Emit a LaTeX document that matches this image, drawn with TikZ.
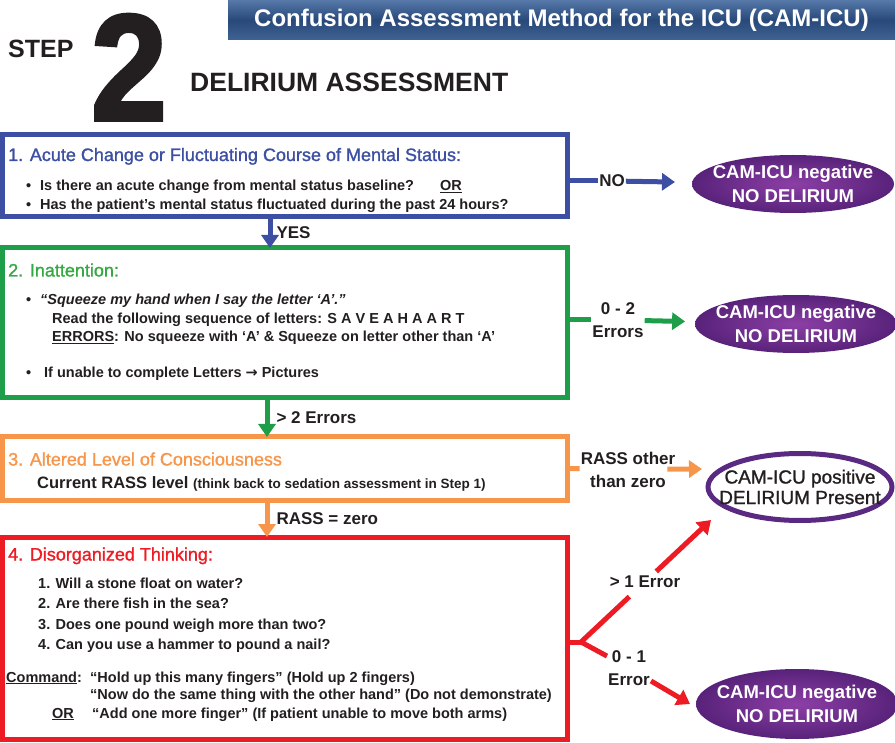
\documentclass[tikz,border=0pt]{standalone}
\usepackage{fontspec}
\setmainfont{Liberation Sans}
\newfontfamily\heavyfont{Liberation Sans}[UprightFont={* Bold}, FakeBold=2.5, FakeStretch=0.9]
\newfontfamily\mediumfont{Liberation Sans}[FakeBold=1.2]
\newfontfamily\arrowfont{DejaVu Sans}
\usetikzlibrary{arrows.meta, shapes.geometric, positioning}

\definecolor{camblue}{HTML}{3C4FA2}
\definecolor{camgreen}{HTML}{1F9E4A}
\definecolor{titlegreen}{HTML}{35A941}
\definecolor{camorange}{HTML}{F7964A}
\definecolor{camred}{HTML}{ED1C24}
\definecolor{inkdark}{HTML}{231F20}
\definecolor{purplelight}{HTML}{8C3FA5}
\definecolor{purpledark}{HTML}{58227A}
\definecolor{purpleedge}{HTML}{5A2A82}
\definecolor{barblue}{HTML}{28497A}
\definecolor{bartop}{HTML}{5679A9}
\definecolor{barbottom}{HTML}{3F6394}

\newcommand{\camitem}[1][9pt]{\llap{\textbullet\hspace{#1}}}

\tikzset{%
  stepbox/.style={
    rectangle,
    draw,
    line width=5pt,
    fill=white,
    inner sep=0pt,
    outer sep=0pt,
    anchor=north west
  },
  box title/.style={
    anchor=base west,
    inner sep=0pt,
    font=\mediumfont\fontsize{18}{20}\selectfont
  },
  box line/.style={
    anchor=base west,
    inner sep=0pt,
    text=inkdark,
    font=\bfseries\fontsize{14.5}{17}\selectfont
  },
  flow label/.style={
    inner sep=1pt,
    text=inkdark,
    align=center,
    font=\bfseries\fontsize{17}{23}\selectfont
  },
  flowline/.style={
    line width=5pt
  },
  negative/.style={
    ellipse,
    inner xsep=-10pt,
    inner ysep=0pt,
    align=center,
    text=white,
    inner color=purplelight,
    outer color=purpledark,
    minimum width=202pt,
    minimum height=58pt,
    font=\bfseries\fontsize{18.5}{24}\selectfont
  },
  positive/.style={
    ellipse,
    draw=purpleedge,
    line width=5pt,
    fill=white,
    inner xsep=-20pt,
    inner ysep=0pt,
    align=center,
    text=inkdark,
    minimum width=184pt,
    minimum height=67pt,
    font=\mediumfont\fontsize{19}{20.5}\selectfont
  },
  header bar/.style={
    rectangle,
    inner sep=0pt,
    minimum width=667pt,
    minimum height=40pt,
    top color=bartop,
    bottom color=barbottom,
    middle color=barblue,
    text=white,
    font=\bfseries\fontsize{24}{24}\selectfont
  },
}

\begin{document}
\begin{tikzpicture}[x=1pt, y=-1pt, >={Triangle[length=13pt, width=17pt]}]

\useasboundingbox (0,0) rectangle (895,743);

% HEADER
\node [header bar] (cam-title) at (561.5,20)
  {Confusion Assessment Method for the ICU (CAM-ICU)};
\node [anchor=base west, inner sep=0pt, text=inkdark,
  font=\bfseries\fontsize{25}{25}\selectfont] (step-word) at (8,58) {STEP};
\node [anchor=base west, inner sep=0pt, text=inkdark,
  font=\heavyfont\fontsize{151}{151}\selectfont] (step-num) at (91,120) {2};
\node [anchor=base west, inner sep=0pt, text=inkdark,
  font=\bfseries\fontsize{26.5}{27}\selectfont] (step-name) at (190,92)
  {DELIRIUM ASSESSMENT};

% BOX 1: acute change
\node [stepbox, draw=camblue, minimum width=565pt, minimum height=82pt]
  (acute) at (2.5,135) {};
\node [box title, text=camblue] (acute-title) at (8,161)
  {1. Acute Change or Fluctuating Course of Mental Status:};
\foreach \t [count=\i] in {%
    {Is there an acute change from mental status baseline?\hspace{26pt}\underline{OR}},
    {Has the patient’s mental status fluctuated during the past 24 hours?}}
  \node [box line] (acute-\i) at (40,172+19*\i) {\camitem\t};

% BOX 2: inattention
\node [stepbox, draw=camgreen, minimum width=565pt, minimum height=150pt]
  (inatt) at (2.5,248) {};
\node [box title, text=titlegreen] (inatt-title) at (8,276.5) {2. Inattention:};
\node [box line] (inatt-1) at (40,305)
  {\camitem\itshape “Squeeze my hand when I say the letter ‘A’.”};
\node [box line] (inatt-2) at (52,324)
  {Read the following sequence of letters: S A V E A H A A R T};
\node [box line] (inatt-3) at (52,342)
  {\underline{ERRORS}: No squeeze with ‘A’ \& Squeeze on letter other than ‘A’};
\node [box line] (inatt-4) at (44,378)
  {\camitem[13pt]If unable to complete Letters {\arrowfont\bfseries →} Pictures};

% BOX 3: level of consciousness
\node [stepbox, draw=camorange, minimum width=565pt, minimum height=63pt]
  (alert) at (2.5,437) {};
\node [box title, text=camorange] (alert-title) at (8,465.5)
  {3. Altered Level of Consciousness};
\node [box line] (alert-1) at (37,488)
  {\fontsize{16.5}{18}\selectfont Current RASS level
   \fontsize{13.5}{16}\selectfont(think back to sedation assessment in Step 1)};

% BOX 4: disorganized thinking
\node [stepbox, draw=camred, minimum width=565pt, minimum height=202pt]
  (think) at (2.5,537) {};
\node [box title, text=camred] (think-title) at (8,560.5)
  {4. Disorganized Thinking:};
\foreach \q [count=\i] in {%
    Will a stone float on water?,
    Are there fish in the sea?,
    Does one pound weigh more than two?,
    Can you use a hammer to pound a nail?}
  \node [box line] (think-\i) at (38,567.5+20.6*\i) {\i. \q};
\node [box line] (think-cmd) at (6,682) {\underline{Command}:};
\node [box line] (think-5) at (90,682)
  {“Hold up this many fingers” (Hold up 2 fingers)};
\node [box line] (think-6) at (90,699)
  {“Now do the same thing with the other hand” (Do not demonstrate)};
\node [box line] (think-or) at (52,718) {\underline{OR}};
\node [box line] (think-7) at (92,718)
  {“Add one more finger” (If patient unable to move both arms)};

% RESULT ellipses
\node [negative] (neg-acute) at (793,184) {CAM-ICU negative\\NO DELIRIUM};
\node [negative] (neg-inatt) at (796,324) {CAM-ICU negative\\NO DELIRIUM};
\node [positive] (pos-think) at (800,487) {CAM-ICU positive\\DELIRIUM Present};
\node [negative, minimum height=70pt] (neg-think) at (797,704)
  {CAM-ICU negative\\NO DELIRIUM};

% DOWN arrows
\draw [flowline, camblue, ->] ([xshift=-15pt]acute.south) -- ([xshift=-15pt]inatt.north)
  node [flow label, midway, right=3pt] (yes-label) {YES};
\draw [flowline, camgreen, ->] ([xshift=-18pt]inatt.south) -- ([xshift=-18pt]alert.north)
  node [flow label, midway, right=6pt] (more-two-label) {> 2 Errors};
\draw [flowline, camorange, ->] ([xshift=-18pt]alert.south) -- ([xshift=-18pt]think.north)
  node [flow label, midway, right=6pt] (zero-label) {RASS = zero};

% SIDE branches
\node [flow label] (no-label) at (612,181) {NO};
\draw [flowline, camblue] ([yshift=-5pt]acute.east) -- (no-label);
\draw [flowline, camblue, ->, shorten >=17pt] (no-label) -- (neg-acute);

\node [flow label] (errors-label) at (618,320) {0 - 2\\Errors};
\draw [flowline, camgreen] ([yshift=3pt]inatt.east) -- (errors-label);
\draw [flowline, camgreen, ->, shorten >=10pt] (errors-label) -- (neg-inatt);

\node [flow label] (rass-label) at (628,469.5) {RASS other\\than zero};
\coordinate (rass-tip) at (702,469);
\draw [flowline, camorange] (alert.east) -- (rass-label);
\draw [flowline, camorange, ->, shorten <=-9pt] (rass-label) -- (rass-tip);

% RED fork
\coordinate (fork) at (581,642);
\coordinate (more-tip) at (711,520);
\coordinate (less-tip) at (690,704);
\node [flow label] (more-label) at (645,582) {> 1 Error};
\node [flow label] (less-label) at (629,668) {0 - 1\\Error};
\draw [flowline, camred, line cap=round] ([yshift=-4pt]think.east) -- (fork);
\draw [flowline, camred, shorten <=11pt] (more-label) -- (fork) -- (less-label);
\draw [flowline, camred, ->, shorten <=5pt] (more-label) -- (more-tip);
\draw [flowline, camred, ->] (less-label) -- (less-tip);

\end{tikzpicture}
\end{document}
